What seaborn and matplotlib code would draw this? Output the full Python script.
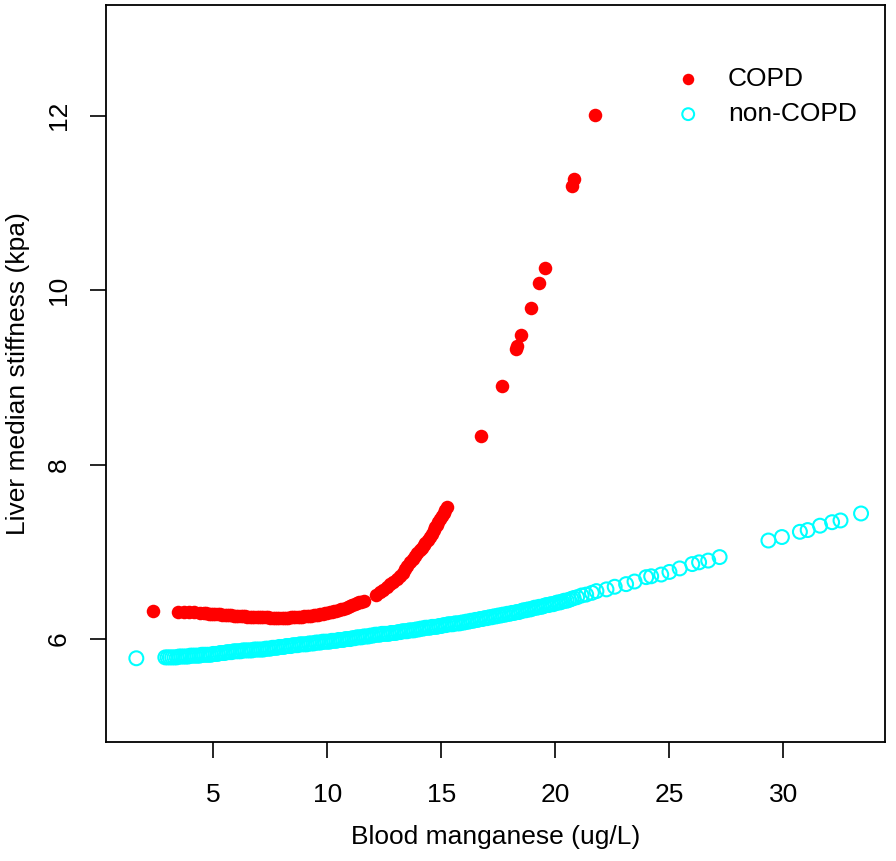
import numpy as np
import pandas as pd
import seaborn as sns
import matplotlib.pyplot as plt

# ---------------------------------------------------------------------------
# data
# ---------------------------------------------------------------------------
copd_x = [2.36,
          3.45, 3.7, 3.92, 4.15, 4.43, 4.6,
          4.7, 4.8, 4.9, 5.0, 5.1, 5.2, 5.3, 5.4, 5.5, 5.6,
          5.7, 5.8, 5.9, 6.0, 6.1, 6.2, 6.3, 6.4, 6.5, 6.6,
          6.7, 6.8, 6.9, 7.0, 7.1, 7.2, 7.3, 7.4, 7.5, 7.6,
          7.7, 7.8, 7.9, 8.0, 8.1, 8.2, 8.3, 8.4, 8.5, 8.6,
          8.7, 8.8, 8.9, 9.0, 9.1, 9.2, 9.3, 9.4, 9.5, 9.6,
          9.7, 9.8, 9.9, 10.0, 10.1, 10.2, 10.3, 10.4, 10.5, 10.6,
          10.7, 10.8, 10.9, 11.0, 11.1, 11.2, 11.3, 11.4, 11.5, 11.6,
          12.15, 12.3, 12.45, 12.6, 12.75, 12.9, 13.05, 13.2, 13.3, 13.4,
          13.5, 13.63, 13.75, 13.85, 13.95, 14.05, 14.14, 14.22, 14.3, 14.4,
          14.5, 14.58, 14.66, 14.74, 14.8, 14.87, 14.95, 15.02, 15.1, 15.16,
          15.23,
          16.76, 17.64, 18.27, 18.32, 18.51, 18.91, 19.29, 19.54, 20.72, 20.82,
          21.73]
copd_y = [6.32,
          6.31, 6.31, 6.31, 6.305, 6.30, 6.298,
          6.295, 6.29, 6.29, 6.288, 6.286, 6.284, 6.282, 6.28, 6.278, 6.276,
          6.274, 6.272, 6.27, 6.268, 6.266, 6.264, 6.262, 6.26, 6.258, 6.256,
          6.255, 6.254, 6.253, 6.252, 6.251, 6.25, 6.249, 6.248, 6.247, 6.246,
          6.245, 6.245, 6.245, 6.245, 6.245, 6.246, 6.247, 6.248, 6.25, 6.252,
          6.254, 6.256, 6.258, 6.26, 6.263, 6.266, 6.269, 6.272, 6.275, 6.28,
          6.285, 6.29, 6.295, 6.30, 6.306, 6.312, 6.318, 6.324, 6.33, 6.34,
          6.35, 6.36, 6.37, 6.38, 6.39, 6.40, 6.41, 6.42, 6.43, 6.44,
          6.51, 6.535, 6.56, 6.595, 6.63, 6.66, 6.69, 6.725, 6.76, 6.80,
          6.835, 6.88, 6.92, 6.955, 6.99, 7.02, 7.05, 7.075, 7.10, 7.135,
          7.17, 7.21, 7.245, 7.28, 7.31, 7.34, 7.375, 7.41, 7.45, 7.48,
          7.51,
          8.33, 8.90, 9.33, 9.36, 9.49, 9.80, 10.08, 10.26, 11.20, 11.28,
          12.01]

noncopd_x = [1.63,
             2.9, 3.0, 3.1, 3.2, 3.3, 3.4, 3.5, 3.6, 3.7, 3.8,
             3.9, 4.0, 4.1, 4.2, 4.3, 4.4, 4.5, 4.6, 4.7, 4.8,
             4.9, 5.0, 5.1, 5.2, 5.3, 5.4, 5.5, 5.6, 5.7, 5.8,
             5.9, 6.0, 6.1, 6.2, 6.3, 6.4, 6.5, 6.6, 6.7, 6.8,
             6.9, 7.0, 7.1, 7.2, 7.3, 7.4, 7.5, 7.6, 7.7, 7.8,
             7.9, 8.0, 8.1, 8.2, 8.3, 8.4, 8.5, 8.6, 8.7, 8.8,
             8.9, 9.0, 9.1, 9.2, 9.3, 9.4, 9.5, 9.6, 9.7, 9.8,
             9.9, 10.0, 10.1, 10.2, 10.3, 10.4, 10.5, 10.6, 10.7, 10.8,
             10.9, 11.0, 11.1, 11.2, 11.3, 11.4, 11.5, 11.6, 11.7, 11.8,
             11.9, 12.0, 12.1, 12.2, 12.3, 12.4, 12.5, 12.6, 12.7, 12.8,
             12.9, 13.0, 13.1, 13.2, 13.3, 13.4, 13.5, 13.6, 13.7, 13.8,
             13.9, 14.0, 14.1, 14.2, 14.3, 14.4, 14.5, 14.6, 14.7, 14.8,
             14.9, 15.0, 15.1, 15.2, 15.3, 15.4, 15.5, 15.6, 15.7, 15.8,
             15.9, 16.0, 16.1, 16.2, 16.3, 16.4, 16.5, 16.6, 16.7, 16.8,
             16.9, 17.0, 17.1, 17.2, 17.3, 17.4, 17.5, 17.6, 17.7, 17.8,
             17.9, 18.0, 18.1, 18.2, 18.3, 18.4, 18.5, 18.6, 18.7, 18.8,
             18.9, 19.0, 19.1, 19.2, 19.3, 19.4, 19.5, 19.6, 19.7, 19.8,
             19.9, 20.0, 20.1, 20.2, 20.3, 20.4, 20.5, 20.6, 20.7, 20.8,
             20.95, 21.15, 21.35, 21.6, 21.8, 22.24, 22.6, 23.1, 23.47, 23.98,
             24.2, 24.64, 25.0, 25.45, 26.0, 26.3, 26.7, 27.2,
             29.34, 29.93, 30.72, 31.06, 31.6, 32.13, 32.5, 33.4]
noncopd_y = [5.78,
             5.79, 5.79, 5.79, 5.79, 5.79, 5.79, 5.80, 5.80, 5.80, 5.80,
             5.80, 5.81, 5.81, 5.81, 5.81, 5.81, 5.82, 5.82, 5.82, 5.82,
             5.82, 5.83, 5.83, 5.83, 5.84, 5.84, 5.84, 5.85, 5.85, 5.85,
             5.86, 5.86, 5.86, 5.86, 5.87, 5.87, 5.87, 5.87, 5.87, 5.88,
             5.88, 5.88, 5.88, 5.88, 5.89, 5.89, 5.89, 5.90, 5.90, 5.90,
             5.91, 5.91, 5.91, 5.92, 5.92, 5.92, 5.93, 5.93, 5.93, 5.94,
             5.94, 5.94, 5.94, 5.95, 5.95, 5.95, 5.96, 5.96, 5.96, 5.97,
             5.97, 5.97, 5.97, 5.98, 5.98, 5.98, 5.99, 5.99, 5.99, 6.00,
             6.00, 6.00, 6.01, 6.01, 6.02, 6.02, 6.02, 6.03, 6.03, 6.03,
             6.04, 6.04, 6.05, 6.05, 6.05, 6.06, 6.06, 6.06, 6.06, 6.07,
             6.07, 6.07, 6.08, 6.08, 6.09, 6.09, 6.09, 6.10, 6.10, 6.10,
             6.11, 6.11, 6.12, 6.12, 6.13, 6.13, 6.13, 6.14, 6.14, 6.14,
             6.15, 6.15, 6.16, 6.16, 6.17, 6.17, 6.17, 6.18, 6.18, 6.18,
             6.19, 6.19, 6.20, 6.20, 6.21, 6.21, 6.22, 6.22, 6.23, 6.23,
             6.24, 6.24, 6.25, 6.25, 6.26, 6.26, 6.27, 6.27, 6.28, 6.28,
             6.29, 6.29, 6.30, 6.30, 6.31, 6.31, 6.32, 6.33, 6.33, 6.34,
             6.34, 6.35, 6.36, 6.36, 6.37, 6.37, 6.38, 6.39, 6.39, 6.40,
             6.40, 6.41, 6.42, 6.42, 6.43, 6.44, 6.44, 6.45, 6.46, 6.47,
             6.48, 6.50, 6.51, 6.53, 6.55, 6.57, 6.60, 6.63, 6.66, 6.71,
             6.72, 6.74, 6.77, 6.81, 6.86, 6.88, 6.90, 6.94,
             7.13, 7.17, 7.23, 7.25, 7.30, 7.34, 7.36, 7.44]

x_ticks = [5, 10, 15, 20, 25, 30]
y_ticks = [6, 8, 10, 12]

copd = pd.DataFrame({'mn': copd_x, 'lsm': copd_y})
noncopd = pd.DataFrame({'mn': noncopd_x, 'lsm': noncopd_y})

# ---------------------------------------------------------------------------
sns.set_style('white')
plt.rcParams['font.family'] = ['Liberation Sans', 'DejaVu Sans']
plt.rcParams['text.color'] = 'black'
plt.rcParams['axes.labelcolor'] = 'black'
fs = 19

fig = plt.figure(figsize=(8.96, 8.61), dpi=100)
ax = fig.add_axes([106/896, 1-742/861, (885-106)/896, (742-5)/861])

sns.scatterplot(data=copd, x='mn', y='lsm', ax=ax, color='#FF0000',
                s=95, linewidth=0, label='COPD')
sns.scatterplot(data=noncopd, x='mn', y='lsm', ax=ax, facecolor='none',
                edgecolor='#00FFFF', s=100, linewidth=1.5, label='non-COPD')

ax.set_xlim(0.3, 34.45)
ax.set_ylim(4.82, 13.27)
ax.set_xticks(x_ticks)
ax.set_yticks(y_ticks)
ax.set_xlabel('Blood manganese (ug/L)', fontsize=fs, labelpad=13)
ax.set_ylabel('Liver median stiffness (kpa)', fontsize=fs, labelpad=12)

for sp in ax.spines.values():
    sp.set_visible(True)
    sp.set_color('black')
    sp.set_linewidth(1.3)
ax.tick_params(axis='both', direction='out', length=11.5, width=1.2,
               color='black', labelsize=fs, labelcolor='black',
               bottom=True, left=True)
ax.tick_params(axis='x', pad=18)
ax.tick_params(axis='y', pad=14)
for lab in ax.get_yticklabels():
    lab.set_rotation(90)
    lab.set_va('center')

ax.legend(loc='upper left', bbox_to_anchor=(675/896, 1-67/861),
          bbox_transform=fig.transFigure, frameon=False, fontsize=fs,
          handlelength=1.0, handletextpad=1.0, labelspacing=0.42,
          borderpad=0, borderaxespad=0, markerscale=0.85)

fig.savefig('out.png', dpi=100)
